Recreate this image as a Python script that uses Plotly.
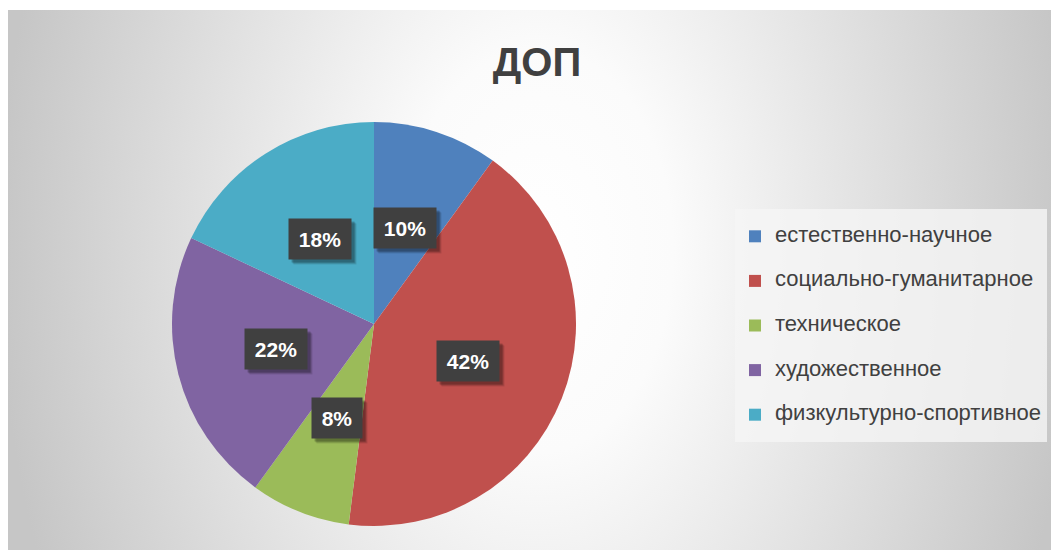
import base64
import math
import plotly.graph_objects as go

# ---- data ----
categories = ["естественно-научное", "социально-гуманитарное", "техническое",
              "художественное", "физкультурно-спортивное"]
values = [10, 42, 8, 22, 18]
colors = ["#4F81BD", "#C0504D", "#9BBB59", "#8064A2", "#4BACC6"]
title_text = "ДОП"

W, H = 1051, 550
# pie geometry (pixels)
cx, cy, r = 374, 324, 202
dom_x = [(cx - r) / W, (cx + r) / W]
dom_y = [(H - cy - r) / H, (H - cy + r) / H]

# background gradient (chart area)
bx0, by0 = 8, 10
bw, bh = W - bx0, H - by0
svg = (f"<svg xmlns='http://www.w3.org/2000/svg' width='{bw}' height='{bh}'>"
       f"<defs><radialGradient id='g' gradientUnits='userSpaceOnUse' cx='530' cy='240' r='540' "
       f"gradientTransform='translate(530 240) scale(1 1.5) translate(-530 -240)'>"
       f"<stop offset='0' stop-color='#ffffff'/><stop offset='0.25' stop-color='#fbfbfb'/>"
       f"<stop offset='1' stop-color='#c6c6c6'/></radialGradient></defs>"
       f"<rect width='{bw}' height='{bh}' fill='url(#g)'/></svg>")
svg_uri = "data:image/svg+xml;base64," + base64.b64encode(svg.encode()).decode()

legend_labels = [f"<span style='font-size:22px;baseline-shift:7px'>{c}</span>" for c in categories]

fig = go.Figure()
fig.add_trace(go.Pie(
    labels=legend_labels,
    values=values,
    marker=dict(colors=colors, line=dict(width=0)),
    sort=False,
    direction="clockwise",
    rotation=0,
    textinfo="none",
    hoverinfo="label+percent",
    domain=dict(x=dom_x, y=dom_y),
))

# percentage labels placed at half radius along each slice's mid-angle
LABEL_FS = 21
total = sum(values)
cum = 0
annotations = []
for v in values:
    mid = (cum + v / 2) / total * 2 * math.pi
    cum += v
    px = cx + 0.5 * r * math.sin(mid)
    py = cy - 0.5 * r * math.cos(mid)
    pct = round(v / total * 100)
    txt = f"{pct}%"
    box_w = round(LABEL_FS * (0.556 * len(str(pct)) + 0.889)) + 2
    common = dict(x=px / W, y=1 - py / H, xref="paper", yref="paper",
                  showarrow=False, width=box_w,
                  borderpad=9, height=22, xanchor="center", yanchor="middle")
    for k, a in [(5, 0.10), (4, 0.15), (3, 0.2)]:
        annotations.append(dict(**common, text=" ", bgcolor=f"rgba(0,0,0,{a})",
                                xshift=k, yshift=-k,
                                font=dict(family="Liberation Sans", size=LABEL_FS,
                                          color="rgba(0,0,0,0)")))
    annotations.append(dict(**common, text=f"<b>{txt}</b>", bgcolor="#404040",
                            font=dict(family="Liberation Sans", size=LABEL_FS,
                                      color="#ffffff")))

fig.update_layout(
    width=W, height=H,
    margin=dict(l=0, r=0, t=0, b=0),
    paper_bgcolor="#ffffff",
    plot_bgcolor="rgba(0,0,0,0)",
    title=dict(text=f"<b>{title_text}</b>", x=537 / W, xanchor="center",
               y=1 - 62 / H, yanchor="middle",
               font=dict(family="Liberation Sans", size=40, color="#404040")),
    images=[dict(source=svg_uri, xref="paper", yref="paper",
                 x=bx0 / W, y=1 - by0 / H, sizex=bw / W, sizey=bh / H,
                 xanchor="left", yanchor="top", sizing="stretch", layer="below")],
    legend=dict(x=735 / W, y=1 - 209 / H, xanchor="left", yanchor="top",
                bgcolor="rgba(245,245,245,0.8)", borderwidth=0,
                font=dict(family="Liberation Sans", size=32, color="#404040"),
                traceorder="normal"),
    annotations=annotations,
    showlegend=True,
)

fig.write_html("out.html")
